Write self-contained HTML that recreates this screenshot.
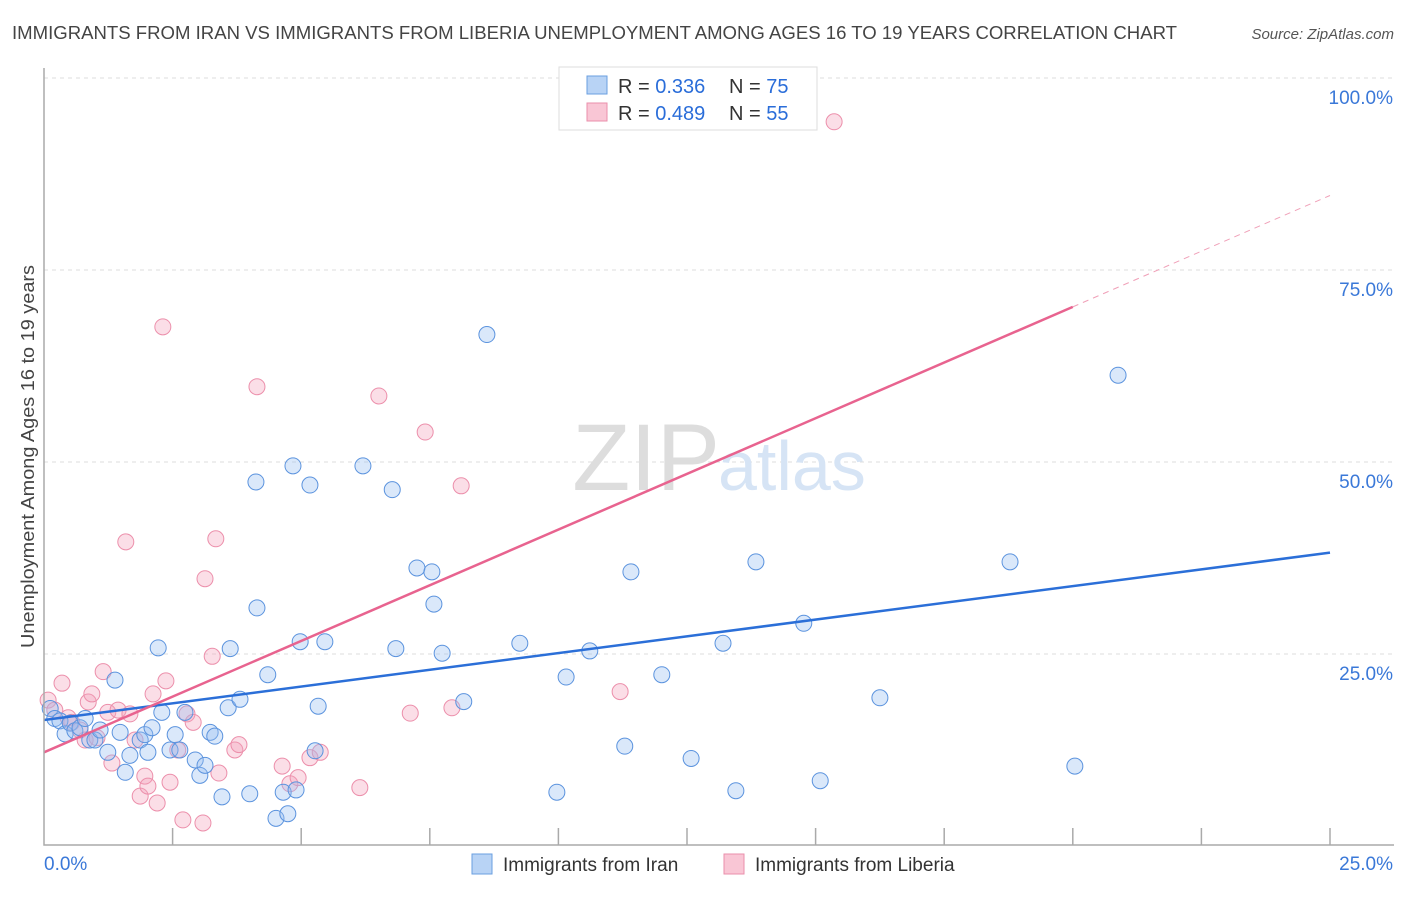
<!DOCTYPE html>
<html><head><meta charset="utf-8"><style>
body{margin:0;background:#fff;font-family:"Liberation Sans",sans-serif;}
svg text{font-family:"Liberation Sans",sans-serif;}
</style></head><body>
<svg id="chart" width="1406" height="892" xmlns="http://www.w3.org/2000/svg">
<text x="12" y="39" font-size="18" fill="#444" textLength="1165" lengthAdjust="spacingAndGlyphs">IMMIGRANTS FROM IRAN VS IMMIGRANTS FROM LIBERIA UNEMPLOYMENT AMONG AGES 16 TO 19 YEARS CORRELATION CHART</text>
<text x="1394" y="39" font-size="15" fill="#555" font-style="italic" text-anchor="end">Source: ZipAtlas.com</text>
<text x="34" y="648" font-size="18" fill="#444" textLength="383" lengthAdjust="spacingAndGlyphs" transform="rotate(-90 34 648)">Unemployment Among Ages 16 to 19 years</text>
<g id="grid"></g>
<text x="720" y="490" font-size="95" fill="#ddd" text-anchor="end" font-family="Liberation Serif">ZIP</text>
<text x="718" y="490" font-size="70" fill="#d6e4f5">atlas</text>
<g id="pts"></g>
<g id="lines"></g>
<g id="axes"></g>
<g>
<rect x="559" y="67" width="258" height="63" fill="#fff" stroke="#ddd"/>
<rect x="587" y="76" width="20" height="18" fill="#b8d3f5" stroke="#6a9fe0"/>
<rect x="587" y="103" width="20" height="18" fill="#f9c6d5" stroke="#ea8fab"/>
<text x="618" y="93" font-size="20" fill="#333">R = <tspan fill="#2a6dd9">0.336</tspan></text>
<text x="729" y="93" font-size="20" fill="#333">N = <tspan fill="#2a6dd9">75</tspan></text>
<text x="618" y="120" font-size="20" fill="#333">R = <tspan fill="#2a6dd9">0.489</tspan></text>
<text x="729" y="120" font-size="20" fill="#333">N = <tspan fill="#2a6dd9">55</tspan></text>
</g>
<g>
<rect x="472" y="854" width="20" height="20" fill="#b8d3f5" stroke="#6a9fe0"/>
<text x="503" y="871" font-size="19" fill="#333">Immigrants from Iran</text>
<rect x="724" y="854" width="20" height="20" fill="#f9c6d5" stroke="#ea8fab"/>
<text x="755" y="871" font-size="19" fill="#333">Immigrants from Liberia</text>
</g>
</svg>
<script>
const yTicks=[100,75,50,25];
const xTickLabels=["0.0%","25.0%"];
const iranX=[0.12,0.21,0.31,0.41,0.51,0.6,0.7,0.8,0.89,0.99,1.09,1.24,1.38,1.48,1.58,1.67,1.87,1.96,2.02,2.1,2.22,2.29,2.45,2.55,2.64,2.74,2.94,3.03,3.13,3.23,3.32,3.46,3.58,3.62,3.81,4.0,4.12,4.14,4.35,4.51,4.65,4.74,4.84,4.9,4.98,5.17,5.33,5.27,5.46,6.2,6.77,6.84,7.25,7.54,7.58,7.74,8.16,8.61,9.25,9.97,10.15,10.61,11.29,11.41,12.01,12.58,13.2,13.45,13.84,14.77,15.09,16.25,18.78,20.04,20.88];
const iranY=[17.9,16.6,16.3,14.6,16.0,15.0,15.4,16.6,13.8,13.8,15.1,12.2,21.6,14.8,9.6,11.8,13.8,14.5,12.2,15.4,25.8,17.4,12.5,14.5,12.5,17.4,11.2,9.2,10.5,14.8,14.3,6.4,18.0,25.7,19.1,6.8,47.4,31.0,22.3,3.6,7.0,4.2,49.5,7.3,26.6,47.0,18.2,12.4,26.6,49.5,46.4,25.7,36.2,35.7,31.5,25.1,18.8,66.6,26.4,7.0,22.0,25.4,13.0,35.7,22.3,11.4,26.4,7.2,37.0,29.0,8.5,19.3,37.0,10.4,61.3];
const libX=[0.08,0.21,0.35,0.47,0.54,0.70,0.80,0.86,0.93,1.03,1.15,1.24,1.32,1.44,1.59,1.67,1.77,1.87,1.96,2.02,2.12,2.20,2.31,2.37,2.45,2.60,2.70,2.78,2.90,3.09,3.13,3.27,3.34,3.40,3.71,3.79,4.14,4.63,4.78,4.94,5.17,5.37,6.14,6.51,7.12,7.41,7.93,8.11,11.20,15.36];
const libY=[19.0,17.7,21.2,16.7,16.1,15.1,13.8,18.75,19.8,14.1,22.7,17.4,10.8,17.7,39.6,17.2,13.8,6.5,9.1,7.8,19.8,5.6,67.6,21.5,8.3,12.5,3.4,17.2,16.1,3.0,34.8,24.7,40.0,9.5,12.5,13.2,59.8,10.4,8.1,8.9,11.5,12.2,7.6,58.6,17.3,53.9,18.0,46.9,20.1,94.3];
const iranFit=[16.4,38.2];   // y% at x=0 and x=25
const libFit=[12.2,84.7];
const libSolidEnd=20;

const svg=document.getElementById('chart');
const NS='http://www.w3.org/2000/svg';
const X0=44,X1=1330,Y0=846,PPY=7.68;
const sx=v=>X0+(X1-X0)*v/25, sy=v=>Y0-PPY*v;
function mk(tag,a,parent){const e=document.createElementNS(NS,tag);for(const k in a)e.setAttribute(k,a[k]);parent.appendChild(e);return e;}
const grid=document.getElementById('grid');
yTicks.forEach(t=>{
  const l=mk('line',{x1:X0,x2:1394,y1:sy(t),y2:sy(t),stroke:'#ddd','stroke-dasharray':'4,4'},grid);
  
  
  const tx=mk('text',{x:1393,y:sy(t)+26,'font-size':19,fill:'#3a78d8','text-anchor':'end'},grid);
  tx.textContent=t.toFixed(1)+'%';
  
  
});
const pts=document.getElementById('pts');
libX.forEach((x,i)=>{
  const c=mk('circle',{cx:sx(x),cy:sy(libY[i]),r:8,fill:'rgba(244,160,185,0.35)',stroke:'#ec8fab','stroke-width':1},pts);
  
  
});
iranX.forEach((x,i)=>{
  const c=mk('circle',{cx:sx(x),cy:sy(iranY[i]),r:8,fill:'rgba(150,190,240,0.35)',stroke:'#5b93de','stroke-width':1},pts);
  
  
});
const lines=document.getElementById('lines');
const lf=x=>libFit[0]+(libFit[1]-libFit[0])*x/25;
let l1=mk('line',{x1:sx(0),y1:sy(iranFit[0]),x2:sx(25),y2:sy(iranFit[1]),stroke:'#2b6fd8','stroke-width':2.5},lines);


let l2=mk('line',{x1:sx(0),y1:sy(lf(0)),x2:sx(libSolidEnd),y2:sy(lf(libSolidEnd)),stroke:'#e8638f','stroke-width':2.5},lines);


let l3=mk('line',{x1:sx(libSolidEnd),y1:sy(lf(libSolidEnd)),x2:sx(25),y2:sy(lf(25)),stroke:'#f0a0b8','stroke-width':1,'stroke-dasharray':'6,5'},lines);


const axes=document.getElementById('axes');
let ax=mk('path',{d:`M${X0} 68 V845 H1394`,fill:'none',stroke:'#aaa','stroke-width':1.5},axes);


for(let i=1;i<=10;i++){
  const t=mk('line',{x1:sx(i*2.5),x2:sx(i*2.5),y1:828,y2:845,stroke:'#aaa','stroke-width':1.5},axes);
  
  
}
[[44,'start'],[1393,'end']].forEach((p,i)=>{
  const t=mk('text',{x:p[0],y:870,'font-size':19,fill:'#3a78d8','text-anchor':p[1]},axes);
  t.textContent=xTickLabels[i];
  
  
});
</script>
</body></html>
